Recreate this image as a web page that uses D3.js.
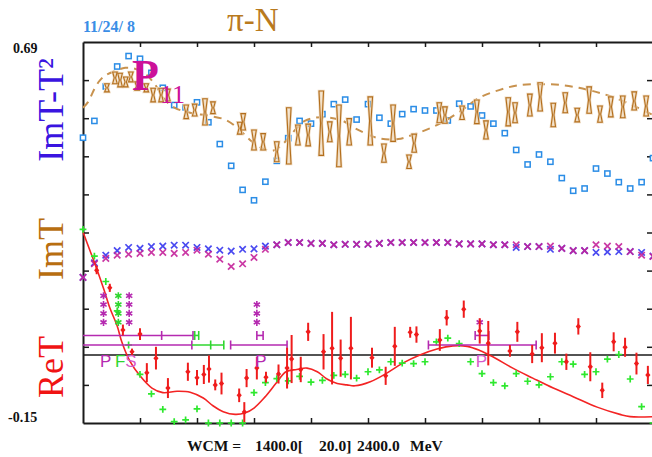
<!DOCTYPE html>
<html>
<head>
<meta charset="utf-8">
<script src="https://cdn.jsdelivr.net/npm/d3@7"></script>
<style>
html,body{margin:0;padding:0;background:#fff;overflow:hidden}
svg{display:block}
text{white-space:pre}
</style>
</head>
<body>
<svg id="chart" width="652" height="457"></svg>
<script>
// pi-N partial wave P11: ImT-T^2, ImT and ReT versus W (MeV)
const energyGrid = d3.range(1400, 2401, 20);

// ImT - T^2 single-energy points (open squares)
const imTT2Single = [0.479,0.516,0.592,0.636,0.659,0.653,0.622,0.589,0.551,0.546,
  0.557,0.513,0.465,0.417,0.364,0.341,0.382,0.428,0.478,0.516,
  0.510,0.531,0.553,0.563,0.519,0.553,0.523,0.510,0.531,0.542,
  0.539,0.539,0.517,0.554,0.548,0.528,0.510,0.489,0.452,0.420,
  0.442,0.426,0.390,0.362,0.367,0.411,0.400,0.381,0.367,0.381,0.434];

// ImT - T^2 energy-dependent solution (dashed)
const imTT2Curve = [[1400,0.545],[1409,0.558],[1421,0.589],[1430,0.606],[1440,0.617],[1456,0.626],
  [1474,0.633],[1491,0.631],[1509,0.620],[1526,0.597],[1544,0.562],[1561,0.545],[1588,0.534],
  [1623,0.527],[1651,0.518],[1675,0.496],[1693,0.474],[1714,0.456],[1732,0.450],[1749,0.463],
  [1772,0.496],[1789,0.516],[1807,0.523],[1833,0.523],[1856,0.516],[1877,0.500],[1895,0.489],
  [1918,0.478],[1953,0.476],[1982,0.487],[2009,0.500],[2035,0.516],[2065,0.540],[2095,0.567],
  [2130,0.584],[2165,0.595],[2205,0.597],[2240,0.595],[2270,0.589],[2300,0.580],[2333,0.567],
  [2370,0.547],[2400,0.529]];

// ImT - T^2 data with errors: [W, value, error]
const imTT2Data = [[1442,0.589,0.009],[1456,0.611,0.013],[1465,0.606,0.015],[1475,0.602,0.011],
  [1484,0.613,0.011],[1495,0.593,0.009],[1511,0.589,0.009],[1523,0.573,0.015],[1537,0.573,0.015],
  [1549,0.573,0.013],[1581,0.536,0.015],[1596,0.540,0.013],[1614,0.536,0.029],[1628,0.545,0.013],
  [1675,0.500,0.013],[1681,0.514,0.018],[1700,0.474,0.022],[1716,0.470,0.018],[1740,0.448,0.022],
  [1761,0.483,0.062],[1777,0.485,0.022],[1795,0.485,0.024],[1818,0.511,0.071],[1833,0.492,0.022],
  [1849,0.483,0.068],[1867,0.492,0.029],[1904,0.516,0.053],[1928,0.445,0.020],[1944,0.511,0.040],
  [1972,0.426,0.015],[1981,0.467,0.020],[2025,0.534,0.022],[2035,0.529,0.018],[2065,0.534,0.015],
  [2091,0.536,0.026],[2107,0.496,0.020],[2146,0.536,0.031],[2158,0.534,0.022],[2184,0.551,0.024],
  [2202,0.569,0.031],[2225,0.529,0.026],[2246,0.556,0.022],[2267,0.529,0.015],[2288,0.562,0.029],
  [2307,0.531,0.018],[2326,0.547,0.022],[2347,0.547,0.024],[2367,0.560,0.020],[2388,0.549,0.022]];

// ImT (crosses): two solutions
const imTBlue = [0.171,0.203,0.220,0.230,0.237,0.235,0.239,0.240,0.242,0.242,
  0.237,0.234,0.231,0.229,0.233,0.234,0.240,0.243,0.248,0.248,
  0.246,0.246,0.243,0.244,0.244,0.244,0.246,0.248,0.248,0.248,
  0.248,0.248,0.248,0.245,0.245,0.245,0.243,0.243,0.237,0.239,
  0.239,0.233,0.235,0.230,0.230,0.226,0.227,0.228,0.228,0.226,0.218];
const imTMagenta = [0.171,0.201,0.213,0.220,0.222,0.224,0.226,0.226,0.224,0.226,
  0.231,0.222,0.211,0.195,0.201,0.215,0.233,0.243,0.248,0.248,
  0.246,0.246,0.243,0.244,0.244,0.244,0.246,0.248,0.248,0.248,
  0.248,0.248,0.248,0.245,0.245,0.245,0.243,0.243,0.243,0.239,
  0.239,0.240,0.235,0.230,0.230,0.243,0.240,0.239,0.228,0.220,0.217];

// ReT single-energy values (green plus)
const reTSingle = [0.277,0.218,0.162,0.097,0.022,-0.043,-0.086,-0.120,-0.147,-0.143,
  -0.119,-0.150,-0.150,-0.150,-0.150,-0.083,-0.061,-0.052,-0.057,-0.047,
  -0.060,-0.056,-0.045,-0.043,-0.051,-0.037,-0.033,-0.015,-0.018,-0.019,
  -0.015,0.029,0.037,0.025,-0.015,-0.041,-0.061,-0.068,-0.041,-0.058,
  -0.066,-0.048,-0.015,-0.020,-0.043,-0.037,-0.009,0.001,-0.053,-0.114,-0.150];

// ReT energy-dependent solution (red line)
const reTCurve = [[1400,0.271],[1412,0.231],[1425,0.187],[1437,0.143],[1447,0.104],[1460,0.064],
  [1468,0.029],[1482,-0.013],[1500,-0.046],[1521,-0.073],[1540,-0.083],[1565,-0.080],[1588,-0.082],
  [1611,-0.095],[1628,-0.112],[1646,-0.125],[1667,-0.131],[1684,-0.128],[1700,-0.117],[1719,-0.093],
  [1739,-0.062],[1756,-0.037],[1775,-0.032],[1793,-0.029],[1811,-0.037],[1828,-0.053],[1846,-0.063],
  [1863,-0.066],[1877,-0.068],[1904,-0.059],[1933,-0.040],[1961,-0.018],[1991,0.000],[2021,0.013],
  [2049,0.020],[2074,0.019],[2096,0.010],[2119,-0.004],[2154,-0.029],[2189,-0.051],[2225,-0.073],
  [2260,-0.092],[2302,-0.115],[2342,-0.131],[2360,-0.136],[2400,-0.136]];

// ReT data with errors: [W, value, error]
const reTData = [[1424,0.187,0.009],[1447,0.148,0.009],[1470,0.055,0.012],[1486,0.007,0.007],
  [1500,0.046,0.013],[1512,-0.039,0.021],[1528,-0.007,0.025],[1549,-0.073,0.022],[1584,-0.037,0.020],
  [1600,-0.050,0.017],[1612,-0.043,0.021],[1621,-0.031,0.030],[1632,-0.066,0.012],[1643,-0.063,0.024],
  [1674,-0.089,0.015],[1683,-0.126,0.022],[1687,-0.051,0.020],[1705,-0.029,0.025],[1721,-0.049,0.012],
  [1743,-0.042,0.021],[1758,-0.029,0.045],[1766,-0.009,0.053],[1782,-0.032,0.028],[1795,0.051,0.020],
  [1822,0.007,0.039],[1837,0.015,0.080],[1852,-0.007,0.041],[1870,0.015,0.069],[1907,-0.006,0.022],
  [1931,-0.046,0.020],[1947,0.019,0.043],[1974,0.050,0.012],[1985,0.045,0.018],[2026,0.033,0.024],
  [2038,0.082,0.017],[2068,0.101,0.019],[2096,0.053,0.028],[2111,0.026,0.049],[2149,0.009,0.013],
  [2162,0.051,0.022],[2188,0.002,0.020],[2205,0.016,0.032],[2228,0.026,0.023],[2248,-0.015,0.018],
  [2269,0.063,0.018],[2290,-0.026,0.032],[2311,-0.078,0.017],[2331,0.029,0.021],[2351,0.017,0.021],
  [2371,-0.019,0.024],[2391,-0.044,0.020]];

// Resonance markers: star columns, width bars and wave labels
const starColumns = [[1436,4,"mag"],[1462,4,"green"],[1481,4,"mag"],[1705,3,"mag"],[2096,1,"mag"]];
const starBase = 0.072, starStep = 0.0195;
const widthBars = [
  [0.043,1400,1593,[1538,1593],"mag"],
  [0.043,1594,1603,[1596,1603],"green"],
  [0.043,1705,1716,[1705,1716],"mag"],
  [0.043,2088,2112,[2088,2112],"mag"],
  [0.022,1400,1591,[1591],"mag"],
  [0.022,1591,1647,[1624,1647],"green"],
  [0.022,1659,1758,[1659,1758],"mag"],
  [0.022,2006,2195,[2006,2195],"mag"]];
const waveLabels = [[1430,"P","mag"],[1456,"F","green"],[1474,"S","pink"],[1702,"P","mag"],[2089,"P","pink"]];
const waveLabelRow = -0.027;

const xTicks = [1500,1600,1700,1800,1900,2000,2100,2200,2300];
const yTicks = [0.606,0.522,0.438,0.354,0.270,0.186,0.102,0.018,-0.066];
const yTopLabel = "0.69", yBottomLabel = "-0.15";
// energy range caption pieces: [text, left x]
const rangeCaption = [["WCM =", 187], ["1400.0[", 255], ["20.0]", 319], ["2400.0", 357], ["MeV", 410]];

const colors = {mag:"#b52ab0", green:"#2fd62f", pink:"#d65acb"};

const svg = d3.select("#chart");
const x = d3.scaleLinear().domain([1400, 2400]).range([83, 653]);
const y = d3.scaleLinear().domain([-0.15, 0.69]).range([423, 42]);

// zero line
svg.append("line").attr("x1", x(1400)).attr("x2", x(2400))
  .attr("y1", y(0)).attr("y2", y(0)).attr("stroke", "#1a1a1a").attr("stroke-width", 1.5);

// axes / frame
function styleAxis(g){
  g.select(".domain").attr("stroke", "#1a1a1a").attr("stroke-width", 2);
  g.selectAll(".tick line").attr("stroke", "#1a1a1a").attr("stroke-width", 1.5);
}
svg.append("g").attr("transform", `translate(0,${y(0.69)})`)
  .call(d3.axisTop(x).tickValues(xTicks).tickSizeInner(-5).tickSizeOuter(0).tickFormat(""))
  .call(styleAxis);
svg.append("g").attr("transform", `translate(0,${y(-0.15)})`)
  .call(d3.axisBottom(x).tickValues(xTicks).tickSizeInner(-5).tickSizeOuter(0).tickFormat(""))
  .call(styleAxis);
svg.append("g").attr("transform", `translate(${x(1400)},0)`)
  .call(d3.axisLeft(y).tickValues(yTicks).tickSizeInner(-6).tickSizeOuter(0).tickFormat(""))
  .call(styleAxis);
svg.append("g").attr("transform", `translate(${x(2400)},0)`)
  .call(d3.axisRight(y).tickValues(yTicks).tickSizeInner(-6).tickSizeOuter(0).tickFormat(""))
  .call(styleAxis);

// ImT crosses
function cross(cx, cy, s){ return `M${cx-s},${cy-s}L${cx+s},${cy+s}M${cx-s},${cy+s}L${cx+s},${cy-s}`; }
svg.append("g").selectAll("path").data(imTBlue).join("path")
  .attr("d", (v,i) => cross(x(energyGrid[i]), y(v), 3.2))
  .attr("stroke", "#4a4af0").attr("stroke-width", 1.7).attr("fill", "none");
svg.append("g").selectAll("path").data(imTMagenta).join("path")
  .attr("d", (v,i) => cross(x(energyGrid[i]), y(v), 3.2))
  .attr("stroke", "#c4229a").attr("stroke-width", 1.7).attr("fill", "none").attr("opacity", 0.9);

// ImT-T^2 single-energy squares
svg.append("g").selectAll("rect").data(imTT2Single).join("rect")
  .attr("x", (v,i) => x(energyGrid[i]) - 2.6).attr("y", v => y(v) - 2.6)
  .attr("width", 5.2).attr("height", 5.2)
  .attr("fill", "#fff").attr("stroke", "#2b8de6").attr("stroke-width", 1.5);

// ImT-T^2 dashed solution
svg.append("path").datum(imTT2Curve)
  .attr("d", d3.line().x(d => x(d[0])).y(d => y(d[1])).curve(d3.curveCatmullRom))
  .attr("fill", "none").attr("stroke", "#c8924e").attr("stroke-width", 2)
  .attr("stroke-dasharray", "8,6");

// ImT-T^2 data as hourglass error bars
function hourglass(d){
  const cx = x(d[0]), y1 = y(d[1] + d[2]), y2 = y(d[1] - d[2]), yc = y(d[1]);
  const hw = 2.3, nw = 0.7;
  return `M${cx-hw},${y1}L${cx+hw},${y1}L${cx+nw},${yc}L${cx+hw},${y2}L${cx-hw},${y2}L${cx-nw},${yc}Z`;
}
const hg = svg.append("g");
hg.selectAll("path.halo").data(imTT2Data).join("path").attr("class", "halo")
  .attr("d", hourglass).attr("fill", "none").attr("stroke", "#efdcc4").attr("stroke-width", 2.6);
hg.selectAll("path.mark").data(imTT2Data).join("path").attr("class", "mark")
  .attr("d", hourglass).attr("fill", "#e9c9a0").attr("fill-opacity", 0.45)
  .attr("stroke", "#b36e1c").attr("stroke-width", 1.1);

// P11 label
const lab = svg.append("text").attr("x", 132).attr("y", 90)
  .attr("font-family", "Liberation Serif, serif").attr("fill", "#cc1199");
lab.append("tspan").attr("font-size", 44).attr("font-weight", "bold").text("P");
lab.append("tspan").attr("font-size", 26).attr("dy", 13).attr("dx", 1).text("11");

// ReT solution
svg.append("path").datum(reTCurve)
  .attr("d", d3.line().x(d => x(d[0])).y(d => y(d[1])).curve(d3.curveCatmullRom))
  .attr("fill", "none").attr("stroke", "#f32424").attr("stroke-width", 1.6);

// ReT single-energy plus
function plus(cx, cy, s){ return `M${cx-s},${cy}L${cx+s},${cy}M${cx},${cy-s}L${cx},${cy+s}`; }
svg.append("g").selectAll("path").data(reTSingle).join("path")
  .attr("d", (v,i) => plus(x(energyGrid[i]), y(v), 3.4))
  .attr("stroke", "#2ee82e").attr("stroke-width", 1.7).attr("fill", "none");

// resonance star columns
function star(cx, cy, s){
  const a = s*0.87, b = s*0.5;
  return `M${cx},${cy-s}L${cx},${cy+s}M${cx-a},${cy-b}L${cx+a},${cy+b}M${cx-a},${cy+b}L${cx+a},${cy-b}`;
}
const stars = [];
starColumns.forEach(c => { for (let k = 0; k < c[1]; k++) stars.push([c[0], starBase + starStep*k, c[2]]); });
svg.append("g").selectAll("path").data(stars).join("path")
  .attr("d", d => star(x(d[0]), y(d[1]), 3.6))
  .attr("stroke", d => colors[d[2]]).attr("stroke-width", 1.6).attr("fill", "none");

// width bars
const wb = svg.append("g");
widthBars.forEach(b => {
  const yy = y(b[0]);
  wb.append("line").attr("x1", x(b[1])).attr("x2", x(b[2])).attr("y1", yy).attr("y2", yy)
    .attr("stroke", colors[b[4]]).attr("stroke-width", 1.6);
  b[3].forEach(t => wb.append("line").attr("x1", x(t)).attr("x2", x(t)).attr("y1", yy-4.5).attr("y2", yy+4.5)
    .attr("stroke", colors[b[4]]).attr("stroke-width", 1.6));
});

// ReT data
const rd = svg.append("g");
rd.selectAll("line").data(reTData).join("line")
  .attr("x1", d => x(d[0])).attr("x2", d => x(d[0]))
  .attr("y1", d => y(d[1] + d[2])).attr("y2", d => y(d[1] - d[2]))
  .attr("stroke", "#ef1c1c").attr("stroke-width", 2);
rd.selectAll("path").data(reTData).join("path")
  .attr("d", d => { const cx = x(d[0]), cy = y(d[1]); return `M${cx},${cy-3}L${cx+2.6},${cy}L${cx},${cy+3}L${cx-2.6},${cy}Z`; })
  .attr("fill", "#ef1c1c");

// wave labels
svg.append("g").selectAll("text").data(waveLabels).join("text")
  .attr("x", d => x(d[0])).attr("y", y(waveLabelRow))
  .attr("font-family", "Liberation Sans, Arial, sans-serif").attr("font-size", 17)
  .attr("fill", d => colors[d[2]]).text(d => d[1]);

// texts
const serif = "Liberation Serif, Times New Roman, serif";
svg.append("text").attr("x", 13).attr("y", 53).attr("font-family", serif).attr("font-weight", "bold")
  .attr("font-size", 14).attr("fill", "#111").text(yTopLabel);
svg.append("text").attr("x", 8).attr("y", 422).attr("font-family", serif).attr("font-weight", "bold")
  .attr("font-size", 14).attr("fill", "#111").text(yBottomLabel);
svg.append("text").attr("x", 83).attr("y", 32).attr("font-family", serif).attr("font-weight", "bold")
  .attr("font-size", 16).attr("fill", "#3a8ee6").text("11/24/ 8");
svg.append("text").attr("x", 227).attr("y", 31).attr("font-family", serif)
  .attr("font-size", 33).attr("fill", "#b97a1e").text("π-N");
svg.append("g").selectAll("text").data(rangeCaption).join("text")
  .attr("x", d => d[1]).attr("y", 451).attr("font-family", serif).attr("font-weight", "bold")
  .attr("font-size", 15.5).attr("fill", "#111").text(d => d[0]);

const sideLabels = [["ImT-T²", 110, "#3a14e0"], ["ImT", 249, "#b86e10"], ["ReT", 367, "#f01414"]];
svg.append("g").selectAll("text").data(sideLabels).join("text")
  .attr("transform", d => `translate(63,${d[1]}) rotate(-90)`)
  .attr("text-anchor", "middle").attr("font-family", serif).attr("font-size", 36)
  .attr("fill", d => d[2]).text(d => d[0]);
</script>
</body>
</html>
